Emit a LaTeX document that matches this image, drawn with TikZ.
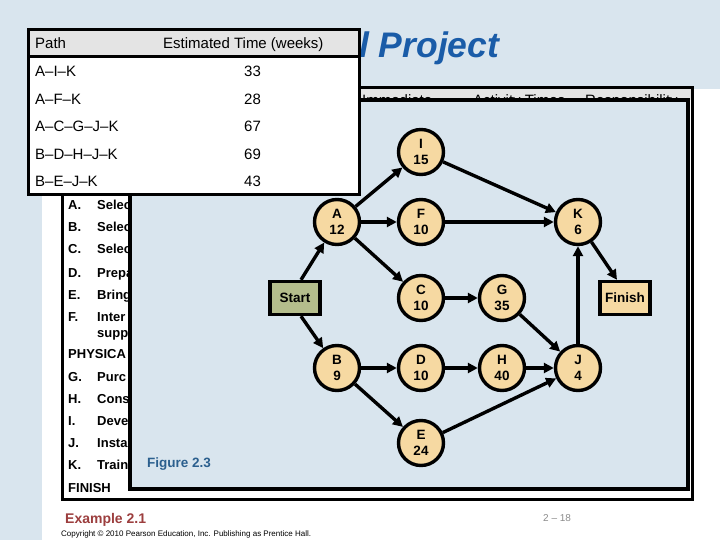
\documentclass[tikz,border=0pt]{standalone}
\usepackage{fontspec}
\setmainfont{Liberation Sans}
\usetikzlibrary{arrows.meta}
\definecolor{bgblue}{HTML}{D9E5EE}
\definecolor{peach}{HTML}{F6D9A2}
\definecolor{olivegreen}{HTML}{B4BD8C}
\definecolor{hdrgray}{HTML}{E4E4E4}
\definecolor{titleblue}{HTML}{1A5CA8}
\definecolor{figblue}{HTML}{2B5F8E}
\definecolor{exred}{HTML}{9C3E3E}
\definecolor{pagegray}{HTML}{8C8C8C}
\tikzset{
  txt/.style={inner sep=0pt, anchor=base west},
  act/.style={circle, draw=black, line width=3.4pt, fill=peach, minimum size=45pt,
    inner sep=0pt, align=center, font=\fontsize{13.5}{16.5}\selectfont\bfseries},
  endbox/.style={rectangle, draw=black, line width=3.4pt, minimum width=50pt,
    minimum height=33pt, inner sep=0pt, font=\fontsize{13.5}{16}\selectfont\bfseries},
  arr/.style={line width=3.4pt, -{Triangle[length=10pt,width=10pt]}},
  listfont/.style={font=\fontsize{13}{14}\selectfont\bfseries},
  tabfont/.style={font=\fontsize{15}{17}\selectfont}
}
\begin{document}
\begin{tikzpicture}[x=1pt,y=-1pt]
\useasboundingbox (0,0) rectangle (720,540);
\fill[white] (0,0) rectangle (720,540);
\fill[bgblue] (0,0) rectangle (720,89);
\fill[bgblue] (0,89) rectangle (42,540);

% title
\node[txt, font=\fontsize{35.5}{38}\selectfont\bfseries\itshape, text=titleblue] (title) at (359,58) {l Project};

% background activity table
\draw[line width=3pt, fill=white] (62,88) rectangle (692,499);
\fill[hdrgray] (63.5,89.5) rectangle (690.5,100);
\begin{scope}
  \clip (62,88) rectangle (692,100);
  \node[txt, tabfont] (h1) at (362,106) {Immediate};
  \node[txt, tabfont] (h2) at (473,106) {Activity Times};
  \node[txt, tabfont] (h3) at (585,106) {Responsibility};
\end{scope}
\begin{scope}
  \clip (62,190) rectangle (130,499);
  \node[txt, listfont] (la) at (68,210) {A.};   \node[txt, listfont] (ta) at (97,210) {Selec};
  \node[txt, listfont] (lb) at (68,232) {B.};   \node[txt, listfont] (tb) at (97,232) {Selec};
  \node[txt, listfont] (lc) at (68,254) {C.};   \node[txt, listfont] (tc) at (97,254) {Selec};
  \node[txt, listfont] (ld) at (68,277) {D.};   \node[txt, listfont] (td) at (97,277) {Prepa};
  \node[txt, listfont] (le) at (68,299) {E.};   \node[txt, listfont] (te) at (97,299) {Bring};
  \node[txt, listfont] (lf) at (68,321) {F.};   \node[txt, listfont] (tf) at (97,321) {Inter};
  \node[txt, listfont] (tf2) at (97,337) {supp};
  \node[txt, listfont] (phys) at (68,358) {PHYSICA};
  \node[txt, listfont] (lg) at (68,381) {G.};   \node[txt, listfont] (tg) at (97,381) {Purc};
  \node[txt, listfont] (lh) at (68,403) {H.};   \node[txt, listfont] (th) at (97,403) {Cons};
  \node[txt, listfont] (li) at (68,425) {I.};   \node[txt, listfont] (ti) at (97,425) {Deve};
  \node[txt, listfont] (lj) at (68,447) {J.};   \node[txt, listfont] (tj) at (97,447) {Insta};
  \node[txt, listfont] (lk) at (68,469) {K.};   \node[txt, listfont] (tk) at (97,469) {Train};
  \node[txt, listfont] (fin) at (68,492) {FINISH};
\end{scope}

% figure box
\draw[line width=3.5pt, fill=bgblue] (130,100) rectangle (688,489);
\node[txt, font=\fontsize{13.5}{15}\selectfont\bfseries, text=figblue] (figlab) at (147,467) {Figure 2.3};

% network
\node[endbox, fill=olivegreen] (start) at (295,298) {Start};
\node[endbox, fill=peach] (finish) at (625,298) {Finish};
\node[act] (A) at (337,222) {A\\12};
\node[act] (B) at (337,368) {B\\9};
\node[act] (I) at (421,152) {I\\15};
\node[act] (F) at (421,222) {F\\10};
\node[act] (C) at (421,298) {C\\10};
\node[act] (D) at (421,368) {D\\10};
\node[act] (E) at (421,443) {E\\24};
\node[act] (G) at (502,298) {G\\35};
\node[act] (H) at (502,368) {H\\40};
\node[act] (K) at (578,222) {K\\6};
\node[act] (J) at (578,368) {J\\4};

\draw[arr] ([xshift=6pt]start.north) -- (A);
\draw[arr] ([xshift=6pt]start.south) -- (B);
\draw[arr] (A) -- (I);
\draw[arr] (A) -- (F);
\draw[arr] (A) -- (C);
\draw[arr] (I) -- (K);
\draw[arr] (F) -- (K);
\draw[arr] (C) -- (G);
\draw[arr] (G) -- (J);
\draw[arr] (B) -- (D);
\draw[arr] (B) -- (E);
\draw[arr] (D) -- (H);
\draw[arr] (H) -- (J);
\draw[arr] (E) -- (J);
\draw[arr] (J) -- (K);
\draw[arr] (K) -- ([xshift=-8pt]finish.north);

% path table
\draw[line width=3pt, fill=white] (28,30) rectangle (359,195);
\fill[hdrgray] (29.5,31.5) rectangle (357.5,57);
\draw[line width=3pt] (28,57) -- (359,57);
\node[txt, tabfont] (ph1) at (35,49) {Path};
\node[txt, tabfont] (ph2) at (163,49) {Estimated Time (weeks)};
\node[txt, tabfont] (p1) at (35,77) {A–I–K};       \node[txt, tabfont] (v1) at (244,77) {33};
\node[txt, tabfont] (p2) at (35,104.5) {A–F–K};     \node[txt, tabfont] (v2) at (244,104.5) {28};
\node[txt, tabfont] (p3) at (35,132) {A–C–G–J–K};   \node[txt, tabfont] (v3) at (244,132) {67};
\node[txt, tabfont] (p4) at (35,159.5) {B–D–H–J–K}; \node[txt, tabfont] (v4) at (244,159.5) {69};
\node[txt, tabfont] (p5) at (35,187) {B–E–J–K};     \node[txt, tabfont] (v5) at (244,187) {43};

% footer
\node[txt, font=\fontsize{14}{16}\selectfont\bfseries, text=exred] (ex) at (65,523) {Example 2.1};
\node[txt, font=\fontsize{8}{9}\selectfont] (copy) at (61,536) {Copyright © 2010 Pearson Education, Inc. Publishing as Prentice Hall.};
\node[txt, font=\fontsize{10}{12}\selectfont, text=pagegray] (pg) at (543,521) {2 – 18};
\end{tikzpicture}
\end{document}
